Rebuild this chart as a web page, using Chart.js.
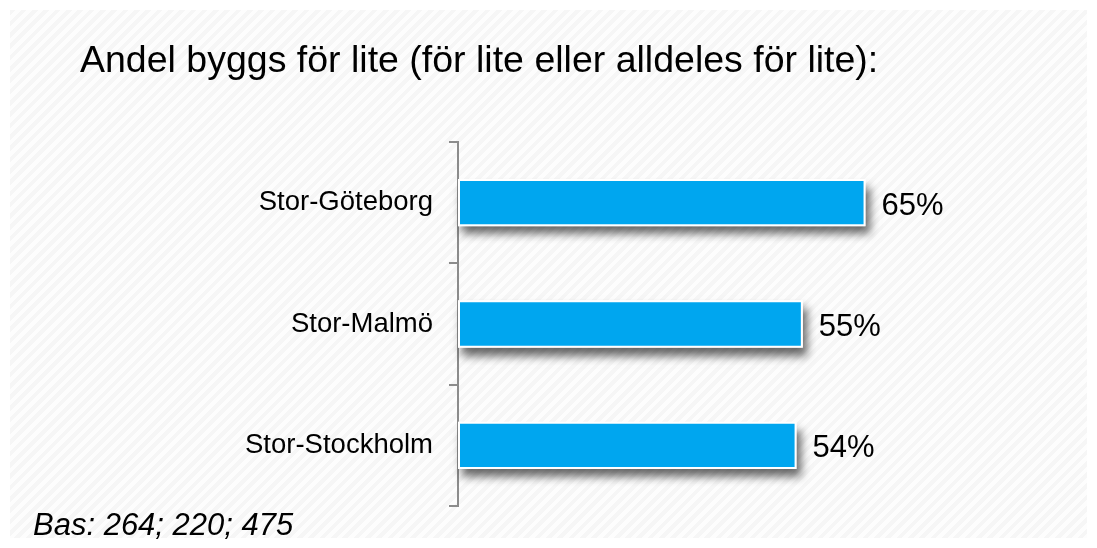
<!DOCTYPE html>
<html>
<head>
<meta charset="utf-8">
<script src="https://cdn.jsdelivr.net/npm/chart.js@4/dist/chart.umd.min.js"></script>
<style>
  html, body { margin: 0; padding: 0; background: #fff; }
  #wrap {
    position: relative; width: 1097px; height: 548px;
  }
  #bg {
    position: absolute; left: 10px; top: 10px; width: 1077px; height: 528px;
    background: repeating-linear-gradient(135deg, #f6f6f6 0px, #f6f6f6 4px, #fdfdfd 4px, #fdfdfd 8px);
  }
  canvas { position: absolute; left: 0; top: 0; }
</style>
</head>
<body>
<div id="wrap">
  <div id="bg"></div>
  <canvas id="chart" width="1097" height="548"></canvas>
</div>
<script>
const titleText = "Andel byggs för lite (för lite eller alldeles för lite):";
const footText = "Bas: 264; 220; 475";
const regions = ["Stor-Göteborg", "Stor-Malmö", "Stor-Stockholm"];
const shares = [65, 55, 54];

const FONT = "'Liberation Sans', Arial, sans-serif";

const textPlugin = {
  id: "texts",
  afterDraw(chart) {
    const ctx = chart.ctx;
    ctx.save();
    ctx.fillStyle = "#000";
    ctx.textBaseline = "alphabetic";
    ctx.textAlign = "left";
    ctx.font = "37.5px " + FONT;
    ctx.fillText(titleText, 80, 72);
    ctx.font = "italic 31px " + FONT;
    ctx.fillText(footText, 33, 535);
    ctx.restore();
  }
};

const valuePlugin = {
  id: "values",
  afterDatasetsDraw(chart) {
    const ctx = chart.ctx;
    const meta = chart.getDatasetMeta(0);
    ctx.save();
    ctx.fillStyle = "#000";
    ctx.font = "31px " + FONT;
    ctx.textAlign = "left";
    ctx.textBaseline = "alphabetic";
    meta.data.forEach((bar, i) => {
      ctx.fillText(shares[i] + "%", bar.x + 16, bar.y + 12);
    });
    ctx.restore();
  }
};

// soft drop shadow under the bars (bar element clips itself, so paint it first)
const shadowPlugin = {
  id: "shadow",
  beforeDatasetDraw(chart) {
    const ctx = chart.ctx;
    const meta = chart.getDatasetMeta(0);
    ctx.save();
    ctx.shadowColor = "rgba(0,0,0,0.6)";
    ctx.shadowBlur = 9;
    ctx.shadowOffsetX = 4;
    ctx.shadowOffsetY = 8;
    ctx.fillStyle = "#ffffff";
    meta.data.forEach(bar => {
      const p = bar.getProps(["x", "y", "base", "height"], true);
      ctx.fillRect(p.base, p.y - p.height / 2, p.x - p.base, p.height);
    });
    ctx.restore();
  }
};

new Chart(document.getElementById("chart"), {
  type: "bar",
  data: {
    labels: regions,
    datasets: [{
      data: shares,
      backgroundColor: "#00a6ef",
      borderColor: "#ffffff",
      borderWidth: 2,
      borderSkipped: false,
      barPercentage: 0.39,
      categoryPercentage: 1
    }]
  },
  options: {
    indexAxis: "y",
    responsive: false,
    animation: false,
    layout: { padding: { top: 142, bottom: 42, left: 0, right: 12 } },
    plugins: {
      legend: { display: false },
      tooltip: { enabled: false }
    },
    scales: {
      x: { display: false, min: 0, max: 100 },
      y: {
        afterFit(scale) { scale.width = 458; },
        border: { display: true, color: "#8c8c8c", width: 2 },
        grid: {
          offset: true,
          drawOnChartArea: false,
          drawTicks: true,
          tickLength: 9,
          color: "#8c8c8c",
          lineWidth: 2
        },
        ticks: {
          color: "#000",
          padding: 16,
          font: { family: FONT, size: 27.5 }
        }
      }
    }
  },
  plugins: [shadowPlugin, valuePlugin, textPlugin]
});
</script>
</body>
</html>
